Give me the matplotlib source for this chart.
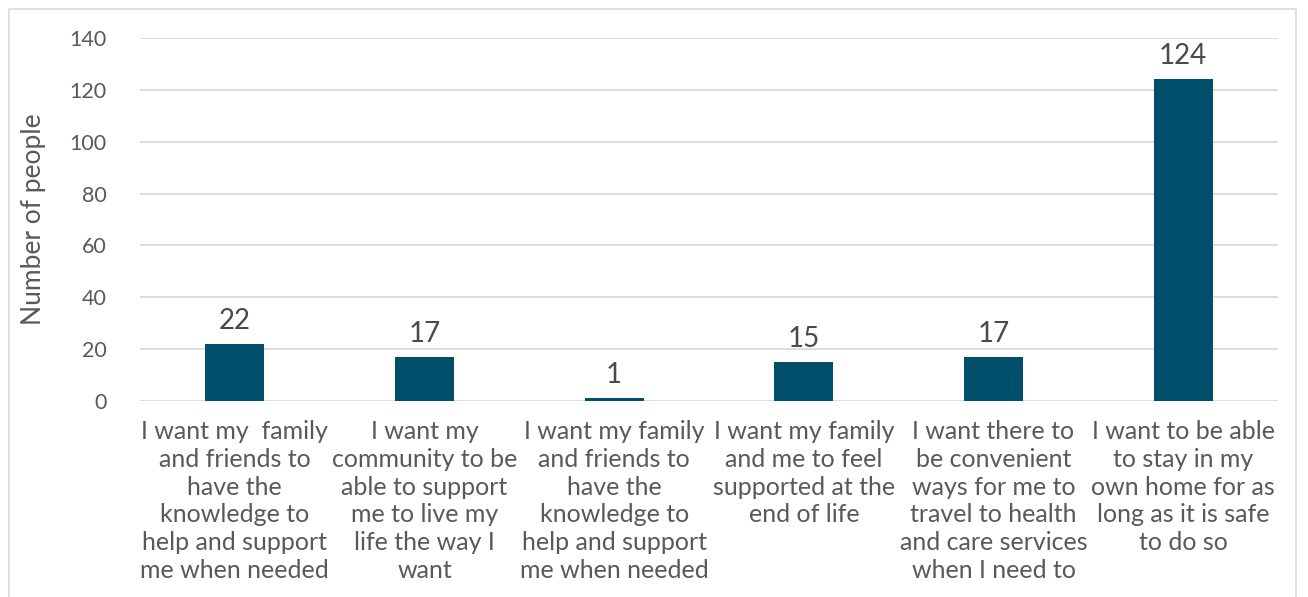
import numpy as np
import matplotlib.pyplot as plt
from matplotlib.patches import Rectangle

plt.rcParams['font.family'] = ['Lato', 'DejaVu Sans']

categories = [
    "I want my  family\nand friends to\nhave the\nknowledge to\nhelp and support\nme when needed",
    "I want my\ncommunity to be\nable to support\nme to live my\nlife the way I\nwant",
    "I want my family\nand friends to\nhave the\nknowledge to\nhelp and support\nme when needed",
    "I want my family\nand me to feel\nsupported at the\nend of life",
    "I want there to\nbe convenient\nways for me to\ntravel to health\nand care services\nwhen I need to",
    "I want to be able\nto stay in my\nown home for as\nlong as it is safe\nto do so",
]
counts = [22, 17, 1, 15, 17, 124]

text_col = "#595959"
fig = plt.figure(figsize=(13.08, 5.97), dpi=100)
fig.patches.append(Rectangle((9/1308, -0.1), 1287/1308, 1.1 - 9/597, transform=fig.transFigure,
                             fill=False, edgecolor="#d9d9d9", linewidth=1.2))
ax = fig.add_axes([140/1308, 1 - 401/597, 1138/1308, 363/597])

x = np.arange(len(categories))
bars = ax.bar(x, counts, width=0.31, color="#00506b", zorder=3)
for xi, v in zip(x, counts):
    ax.text(xi, v + 4, str(v), ha='center', va='bottom', fontsize=20,
            color="#4a4a4a")

ax.set_xlim(-0.5, len(categories) - 0.5)
ax.set_ylim(0, 140)
ax.set_yticks(range(0, 141, 20))
ax.grid(axis='y', color="#d9d9d9", linewidth=1.3, zorder=0)
for s in ax.spines.values():
    s.set_visible(False)
ax.tick_params(axis='both', length=0, colors=text_col)
ax.tick_params(axis='y', pad=24, labelsize=15.5)
ax.tick_params(axis='x', pad=14)
ax.set_xticks(x)
ax.set_xticklabels(categories, fontsize=18, linespacing=1.245)
ax.set_ylabel("Number of people", fontsize=19, color=text_col)
ax.yaxis.set_label_coords(-94/1138, 0.5)

fig.savefig("out.png", dpi=100)
